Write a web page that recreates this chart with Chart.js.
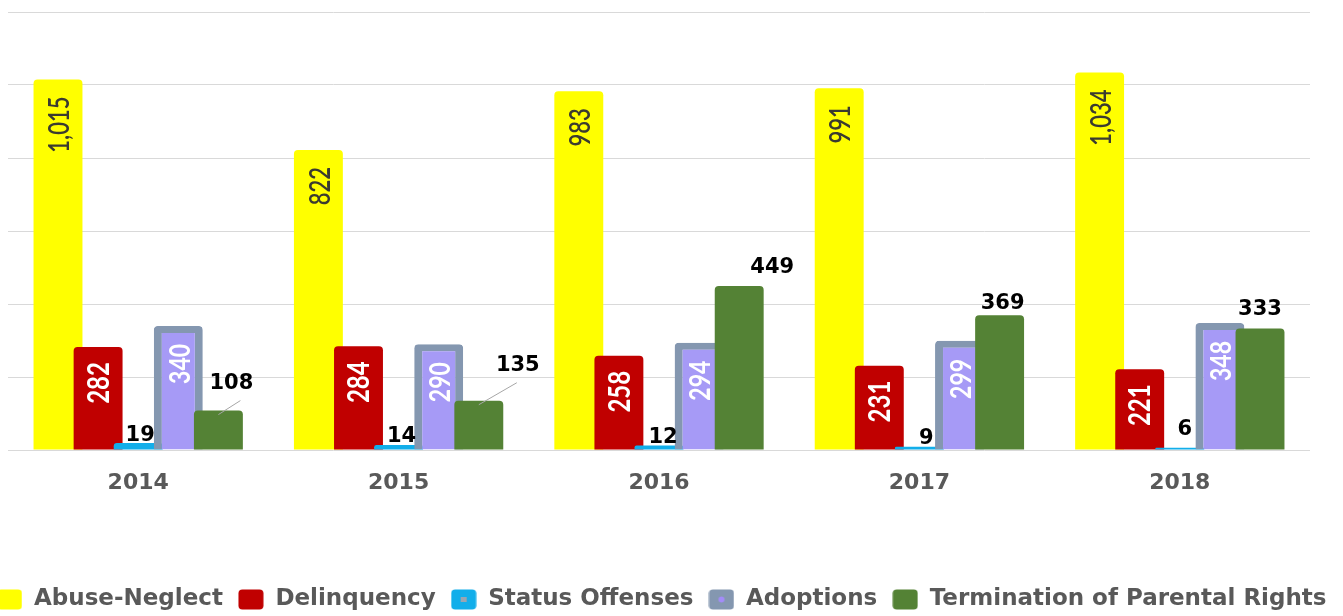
<!DOCTYPE html>
<html><head><meta charset="utf-8">
<script src="https://cdn.jsdelivr.net/npm/chart.js@4.4.1/dist/chart.umd.min.js"></script>
<style>
html,body{margin:0;padding:0;background:#fff;overflow:hidden;width:1343px;height:616px;}
#wrap{position:absolute;left:-30px;top:0;width:1383px;height:626px;}
</style></head><body>
<div id="wrap"><canvas id="c" width="1383" height="626"></canvas></div>
<script>
// ---- data ----
const years = ['2014', '2015', '2016', '2017', '2018'];
const seriesNames = ['Abuse-Neglect', 'Delinquency', 'Status Offenses', 'Adoptions', 'Termination of Parental Rights'];
const abuseNeglect = [1015, 822, 983, 991, 1034];
const delinquency = [282, 284, 258, 231, 221];
const statusOffenses = [19, 14, 12, 9, 6];
const adoptions = [340, 290, 294, 299, 348];
const terminationParentalRights = [108, 135, 449, 369, 333];
const yMin = 0, yMax = 1200, yStep = 200;

// ---- label layout (nudges, not data) ----
const statusLabelNudge = [[2, -8], [3, -8], [4, -8], [7, -8], [5, -18]];
const tprLabelNudge = [[13, -27, 9], [39, -35, -1], [33, -19, null], [3, -12, null], [0, -19, null]];

const COLORS = {
  yellow: '#FFFF00', red: '#C00000', blue: '#12AEEA',
  adoptBorder: '#8497B0', adoptFill: '#A69AF6', green: '#548235'
};

function legendBox(fill, inner) {
  const c = document.createElement('canvas');
  c.width = 26; c.height = 21;
  const x = c.getContext('2d');
  x.fillStyle = fill;
  x.beginPath(); x.roundRect(0.5, 0.5, 25, 20, 4); x.fill();
  if (inner === 'sq') { x.fillStyle = '#9aa5b1'; x.fillRect(10, 8, 6, 5); }
  if (inner === 'dot') { x.fillStyle = '#A38CF8'; x.beginPath(); x.arc(13, 10.5, 3, 0, Math.PI * 2); x.fill(); }
  return c;
}
const legendImgs = [
  legendBox(COLORS.yellow), legendBox(COLORS.red), legendBox(COLORS.blue, 'sq'),
  legendBox(COLORS.adoptBorder, 'dot'), legendBox(COLORS.green)
];

const orderedDraw = {
  id: 'orderedDraw',
  beforeDatasetsDraw(chart) {
    for (let i = 0; i < chart.data.datasets.length; i++) {
      const meta = chart.getDatasetMeta(i);
      if (!meta.hidden) meta.controller.draw();
    }
    return false;
  }
};

function rotText(ctx, text, x, yTop, font, color, sx) {
  ctx.save();
  ctx.translate(x, yTop);
  ctx.scale(sx, 1);
  ctx.rotate(-Math.PI / 2);
  ctx.font = font; ctx.fillStyle = color;
  ctx.textAlign = 'right'; ctx.textBaseline = 'middle';
  ctx.fillText(text, 0, 0);
  ctx.restore();
}

const valueLabels = {
  id: 'valueLabels',
  afterDraw(chart) {
    const ctx = chart.ctx;
    const fmt = v => v.toLocaleString('en-US');
    chart.getDatasetMeta(0).data.forEach((b, j) => {
      rotText(ctx, fmt(abuseNeglect[j]), b.x + 2, b.y + 17, '600 22px Lato', '#3b3b30', 1.3);
    });
    chart.getDatasetMeta(1).data.forEach((b, j) => {
      rotText(ctx, fmt(delinquency[j]), b.x + 1, b.y + 15, 'bold 24px Lato', '#ffffff', 1.25);
    });
    chart.getDatasetMeta(3).data.forEach((b, j) => {
      rotText(ctx, fmt(adoptions[j]), b.x + 2, b.y + 18, 'bold 23px Lato', '#ffffff', 1.25);
    });
    ctx.save();
    ctx.font = 'bold 21px "DejaVu Sans"';
    ctx.fillStyle = '#000'; ctx.textAlign = 'center'; ctx.textBaseline = 'middle';
    chart.getDatasetMeta(2).data.forEach((b, j) => {
      const [dx, dy] = statusLabelNudge[j];
      ctx.fillText(fmt(statusOffenses[j]), b.x + dx, b.y + dy);
    });
    chart.getDatasetMeta(4).data.forEach((b, j) => {
      const [dx, dy, ldx] = tprLabelNudge[j];
      const lx = b.x + dx, ly = b.y + dy;
      ctx.fillStyle = '#000';
      ctx.fillText(fmt(terminationParentalRights[j]), lx, ly);
      if (ldx !== null) {
        ctx.strokeStyle = '#a6a6a6'; ctx.lineWidth = 1;
        ctx.beginPath(); ctx.moveTo(lx + ldx, ly + 17); ctx.lineTo(b.x, b.y + 4); ctx.stroke();
      }
    });
    ctx.restore();
  }
};

const topRadius = {topLeft: 4, topRight: 4, bottomLeft: 0, bottomRight: 0};
const data = {
  labels: years,
  datasets: [
    {label: seriesNames[0], data: abuseNeglect, backgroundColor: COLORS.yellow, borderRadius: topRadius, borderSkipped: false},
    {label: seriesNames[1], data: delinquency, backgroundColor: COLORS.red, borderRadius: topRadius, borderSkipped: false},
    {label: seriesNames[2], data: statusOffenses, backgroundColor: COLORS.blue, borderRadius: topRadius, borderSkipped: false},
    {label: seriesNames[3], data: adoptions, backgroundColor: COLORS.adoptFill, borderColor: COLORS.adoptBorder,
      borderWidth: {top: 7, left: 8, right: 8, bottom: 0}, borderRadius: topRadius, borderSkipped: false},
    {label: seriesNames[4], data: terminationParentalRights, backgroundColor: COLORS.green, borderRadius: topRadius, borderSkipped: false}
  ]
};

new Chart(document.getElementById('c'), {
  type: 'bar',
  data,
  plugins: [orderedDraw, valueLabels],
  options: {
    responsive: false,
    animation: false,
    devicePixelRatio: 1,
    layout: {padding: {left: 0, right: 0, top: 12, bottom: 5}},
    datasets: {bar: {categoryPercentage: 0.77, barPercentage: 1.22}},
    scales: {
      x: {
        grid: {display: false},
        border: {display: false},
        ticks: {font: {family: 'DejaVu Sans', weight: 'bold', size: 22}, color: '#595959', padding: 12},
        afterFit(s) { s.height = 123; }
      },
      y: {
        min: yMin, max: yMax,
        ticks: {display: false, stepSize: yStep},
        grid: {color: '#d9d9d9', lineWidth: 1, drawTicks: false},
        border: {display: false},
        afterFit(s) { s.width = 38; }
      },
      yRight: {
        position: 'right',
        min: yMin, max: yMax,
        ticks: {display: false},
        grid: {display: false},
        border: {display: false},
        afterFit(s) { s.width = 43; }
      }
    },
    plugins: {
      tooltip: {enabled: false},
      legend: {
        position: 'bottom',
        labels: {
          usePointStyle: true,
          pointStyleWidth: 26,
          boxHeight: 21,
          padding: 15,
          color: '#595959',
          font: {family: 'DejaVu Sans', weight: 'bold', size: 23},
          generateLabels(chart) {
            return chart.data.datasets.map((ds, i) => ({
              text: ds.label, pointStyle: legendImgs[i], fillStyle: 'transparent',
              strokeStyle: 'transparent', lineWidth: 0, hidden: false, datasetIndex: i, fontColor: '#595959'
            }));
          }
        }
      }
    }
  }
});
</script>
</body></html>
